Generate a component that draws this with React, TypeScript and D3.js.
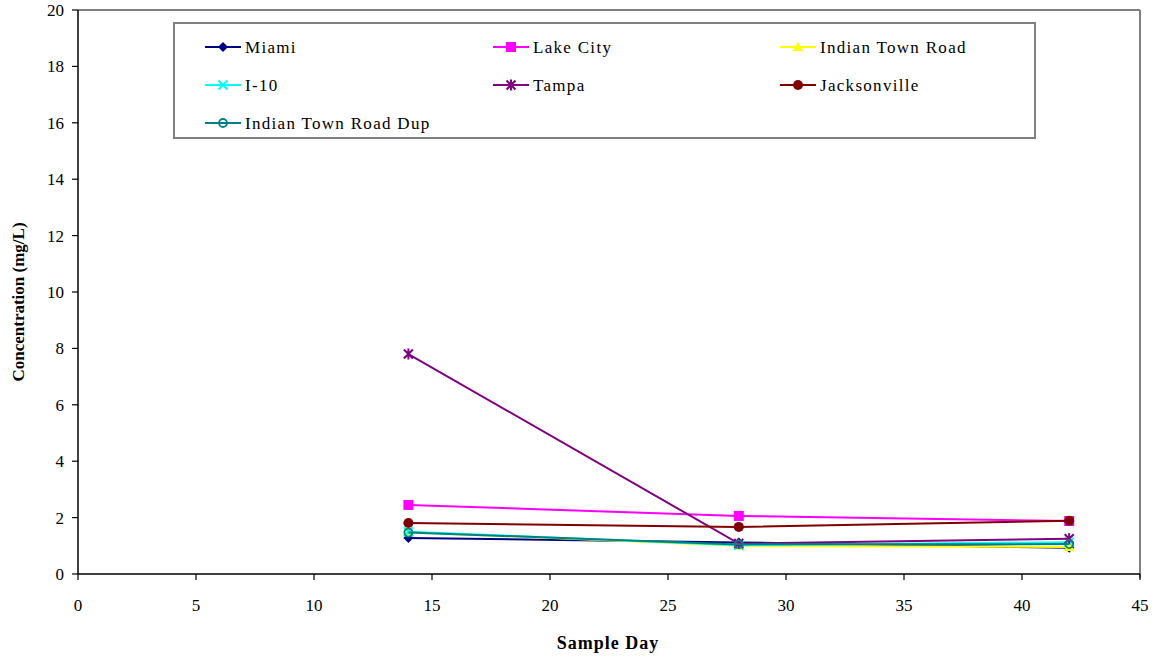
import React from "react";
import * as d3 from "d3";

// Sample days and concentration series (mg/L)
const sampleDays = [14, 28, 42];
const miami = [1.28, 1.12, 0.93];
const lakeCity = [2.45, 2.06, 1.88];
const indianTownRoad = [1.48, 1.0, 0.96];
const i10 = [1.5, 1.02, 1.13];
const tampa = [7.8, 1.08, 1.25];
const jacksonville = [1.81, 1.67, 1.89];
const indianTownRoadDup = [1.47, 1.05, 1.06];

const xTicks = [0, 5, 10, 15, 20, 25, 30, 35, 40, 45];
const yTicks = [0, 2, 4, 6, 8, 10, 12, 14, 16, 18, 20];

type Marker = "diamond" | "square" | "triangle" | "x" | "star" | "circle" | "ocircle";

const series: { name: string; values: number[]; color: string; marker: Marker }[] = [
  { name: "Miami", values: miami, color: "#000080", marker: "diamond" },
  { name: "Lake City", values: lakeCity, color: "#FF00FF", marker: "square" },
  { name: "Indian Town Road", values: indianTownRoad, color: "#FFFF00", marker: "triangle" },
  { name: "I-10", values: i10, color: "#00FFFF", marker: "x" },
  { name: "Tampa", values: tampa, color: "#800080", marker: "star" },
  { name: "Jacksonville", values: jacksonville, color: "#800000", marker: "circle" },
  { name: "Indian Town Road Dup", values: indianTownRoadDup, color: "#008080", marker: "ocircle" },
];

const W = 1159;
const H = 659;
const left = 78;
const right = 1140;
const top = 10;
const bottom = 574;

const x = d3.scaleLinear().domain([0, 45]).range([left, right]);
const y = d3.scaleLinear().domain([0, 20]).range([bottom, top]);

function MarkerShape({ kind, cx, cy, color }: { kind: Marker; cx: number; cy: number; color: string }) {
  switch (kind) {
    case "diamond":
      return <path d={`M${cx},${cy - 5}L${cx + 5},${cy}L${cx},${cy + 5}L${cx - 5},${cy}Z`} fill={color} />;
    case "square":
      return <rect x={cx - 5} y={cy - 5} width={10} height={10} fill={color} />;
    case "triangle":
      return <path d={`M${cx},${cy - 5}L${cx + 5.5},${cy + 4}L${cx - 5.5},${cy + 4}Z`} fill={color} />;
    case "x":
      return (
        <path d={`M${cx - 4.5},${cy - 4.5}L${cx + 4.5},${cy + 4.5}M${cx + 4.5},${cy - 4.5}L${cx - 4.5},${cy + 4.5}`} stroke={color} strokeWidth={2} />
      );
    case "star":
      return (
        <path
          d={`M${cx - 4.5},${cy - 4.5}L${cx + 4.5},${cy + 4.5}M${cx + 4.5},${cy - 4.5}L${cx - 4.5},${cy + 4.5}M${cx},${cy - 5.5}L${cx},${cy + 5.5}`}
          stroke={color}
          strokeWidth={2}
        />
      );
    case "circle":
      return <circle cx={cx} cy={cy} r={5} fill={color} />;
    case "ocircle":
      return <circle cx={cx} cy={cy} r={4} fill="none" stroke={color} strokeWidth={1.8} />;
  }
}

export default function App() {
  const line = d3
    .line<number>()
    .x((_, i) => x(sampleDays[i]))
    .y((v) => y(v));

  const legendCols = [205, 493, 780];
  const legendRows = [47, 85, 123];

  return (
    <svg width={W} height={H} style={{ position: "absolute", left: 0, top: 0, background: "#fff" }} fontFamily="'Liberation Serif', 'Times New Roman', serif">
      {/* plot frame */}
      <line x1={left} y1={top} x2={right} y2={top} stroke="#808080" strokeWidth={2} />
      <line x1={right} y1={top} x2={right} y2={bottom + 4} stroke="#808080" strokeWidth={2} />

      {/* series lines and markers */}
      {series.map((s) => (
        <g key={s.name}>
          <path d={line(s.values) ?? ""} fill="none" stroke={s.color} strokeWidth={2} />
          {s.values.map((v, i) => (
            <MarkerShape key={i} kind={s.marker} cx={x(sampleDays[i])} cy={y(v)} color={s.color} />
          ))}
        </g>
      ))}

      {/* axes */}
      <line x1={left} y1={top} x2={left} y2={bottom} stroke="#000" strokeWidth={1.5} />
      <line x1={left} y1={bottom} x2={right} y2={bottom} stroke="#000" strokeWidth={1.5} />
      {yTicks.map((t) => (
        <g key={`y${t}`}>
          <line x1={left - 6} x2={left} y1={y(t)} y2={y(t)} stroke="#000" strokeWidth={1.2} />
          <text x={left - 14} y={y(t)} dy="0.35em" textAnchor="end" fontSize={17}>
            {t}
          </text>
        </g>
      ))}
      {xTicks.map((t) => (
        <g key={`x${t}`}>
          <line x1={x(t)} x2={x(t)} y1={bottom} y2={bottom + 6} stroke="#000" strokeWidth={1.2} />
          <text x={x(t)} y={605} dy="0.35em" textAnchor="middle" fontSize={17}>
            {t}
          </text>
        </g>
      ))}

      {/* axis titles */}
      <text x={608} y={643} dy="0.35em" textAnchor="middle" fontSize={18} fontWeight="bold" letterSpacing={1}>
        Sample Day
      </text>
      <text transform={`translate(18,302) rotate(-90)`} dy="0.35em" textAnchor="middle" fontSize={17} fontWeight="bold">
        Concentration (mg/L)
      </text>

      {/* legend */}
      <rect x={174} y={23} width={861} height={115} fill="#fff" stroke="#808080" strokeWidth={2} />
      {series.map((s, i) => {
        const lx = legendCols[i % 3];
        const ly = legendRows[Math.floor(i / 3)];
        return (
          <g key={`leg${s.name}`}>
            <line x1={lx} x2={lx + 36} y1={ly} y2={ly} stroke={s.color} strokeWidth={2} />
            <MarkerShape kind={s.marker} cx={lx + 18} cy={ly} color={s.color} />
            <text x={lx + 40} y={ly} dy="0.35em" fontSize={17} letterSpacing={1.3}>
              {s.name}
            </text>
          </g>
        );
      })}
    </svg>
  );
}
